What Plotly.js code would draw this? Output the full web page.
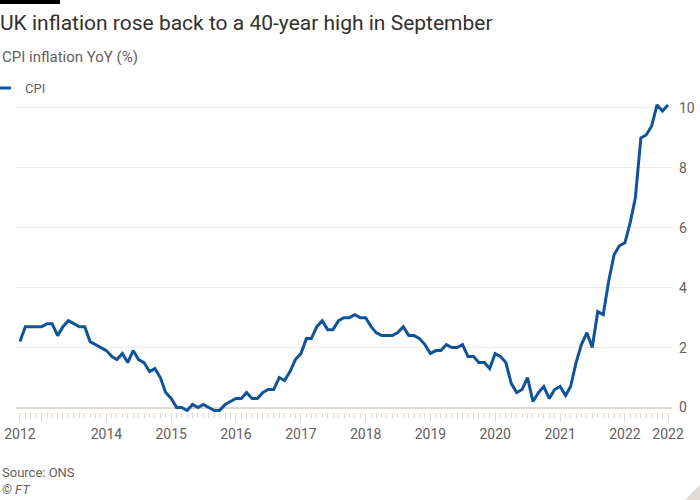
<!DOCTYPE html>
<html>
<head>
<meta charset="utf-8">
<script src="https://cdn.plot.ly/plotly-3.0.1.min.js"></script>
<style>
  html, body { margin: 0; padding: 0; background: #fff; }
  #chart { width: 700px; height: 500px; }
</style>
</head>
<body>
<div id="chart"></div>
<script>
// CPI inflation YoY (%), monthly, from Sep 2012 to Sep 2022
const firstYear = 2012;
const firstMonth = 9;
const cpi2012 = [2.2, 2.7, 2.7, 2.7];
const cpi2013 = [2.7, 2.8, 2.8, 2.4, 2.7, 2.9, 2.8, 2.7, 2.7, 2.2, 2.1, 2.0];
const cpi2014 = [1.9, 1.7, 1.6, 1.8, 1.5, 1.9, 1.6, 1.5, 1.2, 1.3, 1.0, 0.5];
const cpi2015 = [0.3, 0.0, 0.0, -0.1, 0.1, 0.0, 0.1, 0.0, -0.1, -0.1, 0.1, 0.2];
const cpi2016 = [0.3, 0.3, 0.5, 0.3, 0.3, 0.5, 0.6, 0.6, 1.0, 0.9, 1.2, 1.6];
const cpi2017 = [1.8, 2.3, 2.3, 2.7, 2.9, 2.6, 2.6, 2.9, 3.0, 3.0, 3.1, 3.0];
const cpi2018 = [3.0, 2.7, 2.5, 2.4, 2.4, 2.4, 2.5, 2.7, 2.4, 2.4, 2.3, 2.1];
const cpi2019 = [1.8, 1.9, 1.9, 2.1, 2.0, 2.0, 2.1, 1.7, 1.7, 1.5, 1.5, 1.3];
const cpi2020 = [1.8, 1.7, 1.5, 0.8, 0.5, 0.6, 1.0, 0.2, 0.5, 0.7, 0.3, 0.6];
const cpi2021 = [0.7, 0.4, 0.7, 1.5, 2.1, 2.5, 2.0, 3.2, 3.1, 4.2, 5.1, 5.4];
const cpi2022 = [5.5, 6.2, 7.0, 9.0, 9.1, 9.4, 10.1, 9.9, 10.1];

// x axis labels (2013 is left blank, it would sit on top of 2012)
const xTickVals = ['2012-09-01', '2013-01-01', '2014-01-01', '2015-01-01', '2016-01-01', '2017-01-01',
                   '2018-01-01', '2019-01-01', '2020-01-01', '2021-01-01', '2022-01-01', '2022-09-01'];
const xTickText = ['2012', '', '2014', '2015', '2016', '2017', '2018', '2019', '2020', '2021', '2022', '2022'];
const yTickVals = [0, 2, 4, 6, 8, 10];

// Build month dates for the series
const cpiYears = [cpi2012, cpi2013, cpi2014, cpi2015, cpi2016, cpi2017, cpi2018, cpi2019, cpi2020, cpi2021, cpi2022];
const dates = [];
const values = [];
cpiYears.forEach((yearValues, i) => {
    const year = firstYear + i;
    const startMonth = i === 0 ? firstMonth : 1;
    yearValues.forEach((v, j) => {
        const m = startMonth + j;
        dates.push(year + '-' + String(m).padStart(2, '0') + '-01');
        values.push(v);
    });
});

const FONT = 'Roboto, "Liberation Sans", sans-serif';
const TEXT_DARK = '#33302e';
const TEXT_MID = '#66605c';

// plot area in pixels, used to place the text around it
const L = 16, R = 28, T = 99, B = 88;
const W = 700 - L - R, H = 500 - T - B;
const px = x => (x - L) / W;
const py = y => (500 - B - y) / H;

const cpiTrace = {
    x: dates,
    y: values,
    type: 'scatter',
    mode: 'lines',
    name: 'CPI',
    line: { color: '#0f5499', width: 3 },
    showlegend: false,
    hoverinfo: 'x+y'
};

const layout = {
    width: 700,
    height: 500,
    paper_bgcolor: '#fff',
    plot_bgcolor: '#fff',
    font: { family: FONT, color: TEXT_MID, size: 14 },
    margin: { l: L, r: R, t: T, b: B, pad: 0 },
    title: {
        text: 'UK inflation rose back to a 40-year high in September',
        font: { family: FONT, size: 21, color: TEXT_DARK },
        xref: 'container',
        yref: 'container',
        x: 0,
        xanchor: 'left',
        y: 1 - 23 / 500,
        yanchor: 'middle',
        pad: { l: 0, t: 0, r: 0, b: 0 }
    },
    xaxis: {
        type: 'date',
        range: ['2012-08-09 12:00', '2022-09-23 12:00'],
        tickmode: 'array',
        tickvals: xTickVals,
        ticktext: xTickText,
        ticks: 'outside',
        ticklen: 9,
        tickwidth: 1,
        tickcolor: '#e2d9d1',
        tickfont: { family: FONT, size: 14, color: TEXT_MID },
        showgrid: false,
        zeroline: false,
        showline: false,
        fixedrange: true,
        minor: {
            tickmode: 'linear',
            tick0: '2012-09-01',
            dtick: 'M1',
            ticks: 'outside',
            ticklen: 5,
            tickwidth: 1,
            tickcolor: '#e2d9d1',
            showgrid: false
        }
    },
    yaxis: {
        side: 'right',
        range: [-0.15, 10.3],
        tickmode: 'array',
        tickvals: yTickVals,
        ticks: '',
        ticklabelstandoff: 6,
        tickfont: { family: FONT, size: 14, color: TEXT_MID },
        showgrid: true,
        gridcolor: '#f2ebe5',
        gridwidth: 1,
        zeroline: true,
        zerolinecolor: '#e0d7cf',
        zerolinewidth: 2,
        showline: false,
        fixedrange: true
    },
    shapes: [
        // black bar top left
        { type: 'rect', xref: 'paper', yref: 'paper', x0: px(0), x1: px(60), y0: py(4), y1: py(0),
          fillcolor: '#000', line: { width: 0 } },
        // legend key
        { type: 'line', xref: 'paper', yref: 'paper', x0: px(0), x1: px(11), y0: py(88), y1: py(88),
          line: { color: '#0f5499', width: 3 } },
        // corner mark bottom right
        { type: 'path', xref: 'paper', yref: 'paper',
          path: 'M ' + px(700) + ' ' + py(485) + ' L ' + px(700) + ' ' + py(500) + ' L ' + px(685) + ' ' + py(500) + ' Z',
          fillcolor: '#e3dad2', line: { width: 0 } }
    ],
    annotations: [
        { text: 'CPI inflation YoY (%)', xref: 'paper', yref: 'paper', x: px(0), y: py(57),
          xanchor: 'left', yanchor: 'middle', showarrow: false,
          font: { family: FONT, size: 15, color: TEXT_MID } },
        { text: 'CPI', xref: 'paper', yref: 'paper', x: px(23), y: py(88),
          xanchor: 'left', yanchor: 'middle', showarrow: false,
          font: { family: FONT, size: 13, color: TEXT_MID } },
        { text: 'Source: ONS', xref: 'paper', yref: 'paper', x: px(0), y: py(472),
          xanchor: 'left', yanchor: 'middle', showarrow: false,
          font: { family: FONT, size: 13, color: TEXT_MID } },
        { text: '<i>© FT</i>', xref: 'paper', yref: 'paper', x: px(0), y: py(490),
          xanchor: 'left', yanchor: 'middle', showarrow: false,
          font: { family: FONT, size: 13, color: TEXT_MID } }
    ]
};

Plotly.newPlot('chart', [cpiTrace], layout, { displayModeBar: false, staticPlot: true });
</script>
</body>
</html>
